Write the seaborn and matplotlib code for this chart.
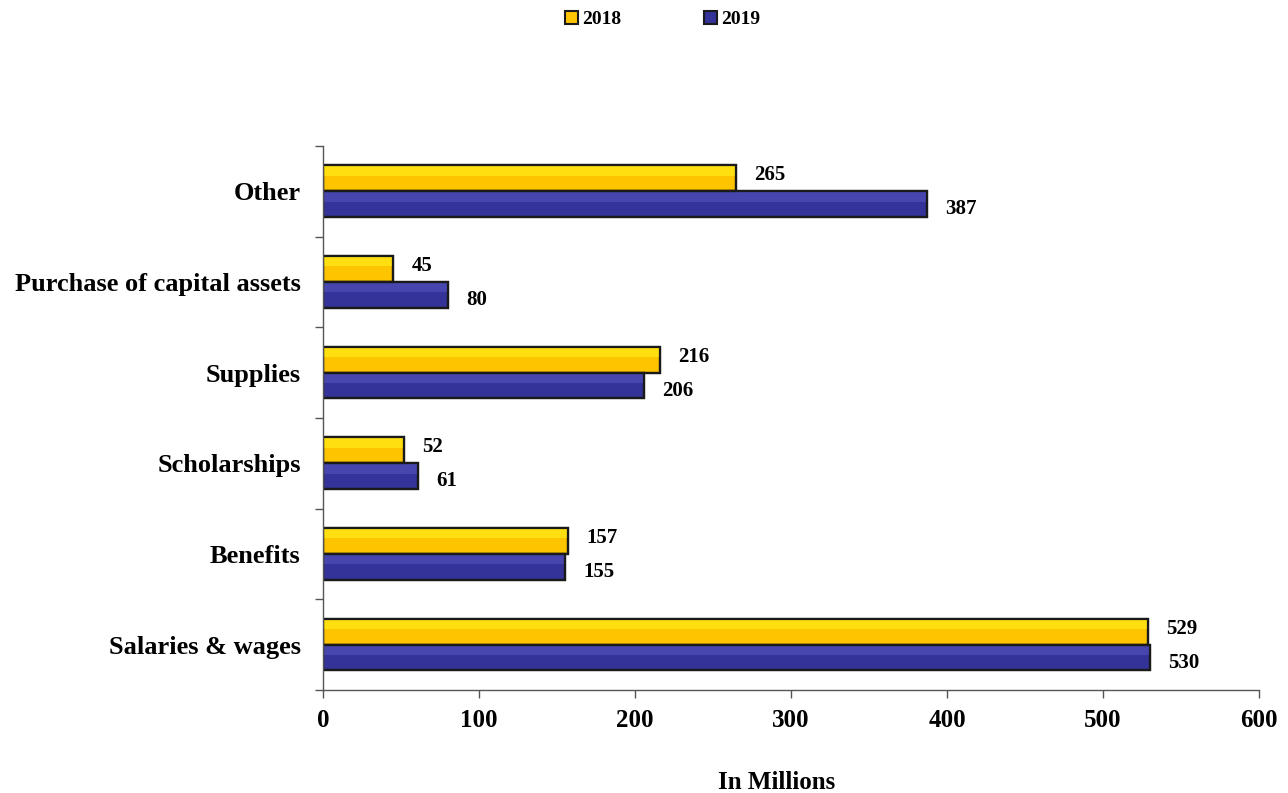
import matplotlib
matplotlib.use("Agg")
import matplotlib.pyplot as plt
import matplotlib.patches as mpatches
import seaborn as sns
import pandas as pd

categories = ["Other", "Purchase of capital assets", "Supplies",
              "Scholarships", "Benefits", "Salaries & wages"]
values_2018 = [265, 45, 216, 52, 157, 529]
values_2019 = [387, 80, 206, 61, 155, 530]
years = ["2018", "2019"]
x_ticks = [0, 100, 200, 300, 400, 500, 600]

face = {"2018": "#FFC400", "2019": "#333399"}
shine = {"2018": "#FFDF10", "2019": "#4646AE"}

df = pd.DataFrame({
    "category": categories * 2,
    "value": values_2018 + values_2019,
    "year": [years[0]] * len(categories) + [years[1]] * len(categories),
})

sns.set_theme(style="white")
plt.rcParams["font.family"] = ["Liberation Serif", "DejaVu Serif"]
plt.rcParams["font.weight"] = "bold"
plt.rcParams["text.color"] = "black"
plt.rcParams["xtick.color"] = "black"
plt.rcParams["ytick.color"] = "black"
plt.rcParams["axes.labelcolor"] = "black"

fig = plt.figure(figsize=(12.88, 7.93), dpi=100)
ax = fig.add_axes([0.2508, 0.1299, 0.9775 - 0.2508, 0.8159 - 0.1299])

sns.barplot(data=df, y="category", x="value", hue="year", order=categories,
            hue_order=years, palette=face, saturation=1, orient="h",
            width=0.57, edgecolor="#1a1a1a", linewidth=1.6, legend=False,
            ax=ax)

# lighter upper band on each bar for a bevelled look, plus value labels
label_shift = {"2018": 2.2, "2019": -3.6}   # vertical nudge in points
for container, year in zip(ax.containers, years):
    for bar in container:
        x0, y0 = bar.get_x(), bar.get_y()
        w, h = bar.get_width(), bar.get_height()
        ax.add_patch(mpatches.Rectangle((x0, y0), w, h * 0.4,
                                        facecolor=shine[year], edgecolor="none",
                                        zorder=bar.get_zorder() + 0.1))
        ax.add_patch(mpatches.Rectangle((x0, y0), w, h,
                                        facecolor="none", edgecolor="#1a1a1a",
                                        linewidth=1.6,
                                        zorder=bar.get_zorder() + 0.2))
    labels = ax.bar_label(container,
                          labels=[f"{v:.0f}" for v in container.datavalues],
                          padding=13, fontsize=15, fontweight="bold",
                          color="black", fontfamily="Liberation Serif")
    for t in labels:
        t.xyann = (13, label_shift[year])

ax.set_xlim(0, 600)
ax.set_ylim(len(categories) - 0.5, -0.5)
ax.set_xticks(x_ticks)
ax.set_xticklabels([str(t) for t in x_ticks], fontsize=18, fontweight="bold")
ax.set_yticks(range(len(categories)))
ax.set_yticklabels(categories, fontsize=19, fontweight="bold")
ax.tick_params(axis="y", length=0, pad=16)
ax.set_yticks([i - 0.5 for i in range(len(categories) + 1)], minor=True)
ax.tick_params(axis="y", which="minor", length=6, width=1, color="#555555",
               direction="out", left=True)
ax.tick_params(axis="x", length=6, width=1, color="#555555", direction="out",
               bottom=True, pad=8)

for s in ["top", "right"]:
    ax.spines[s].set_visible(False)
for s in ["left", "bottom"]:
    ax.spines[s].set_color("#555555")
    ax.spines[s].set_linewidth(1)

ax.set_xlabel("In Millions", fontsize=18, fontweight="bold")
ax.xaxis.set_label_coords(0.485, -0.148)
ax.set_ylabel("")
ax.grid(False)

handles = [mpatches.Patch(facecolor=face[y], edgecolor="#1a1a1a", linewidth=1.5,
                          label=y) for y in years]
fig.legend(handles=handles, loc="upper center", bbox_to_anchor=(0.5145, 1.008),
           ncol=2, frameon=False, handlelength=0.65,
           handleheight=0.65, handletextpad=0.2, columnspacing=4.3,
           prop={"weight": "bold", "size": 14, "family": "Liberation Serif"})

fig.savefig("out.png", dpi=100, facecolor="white")
